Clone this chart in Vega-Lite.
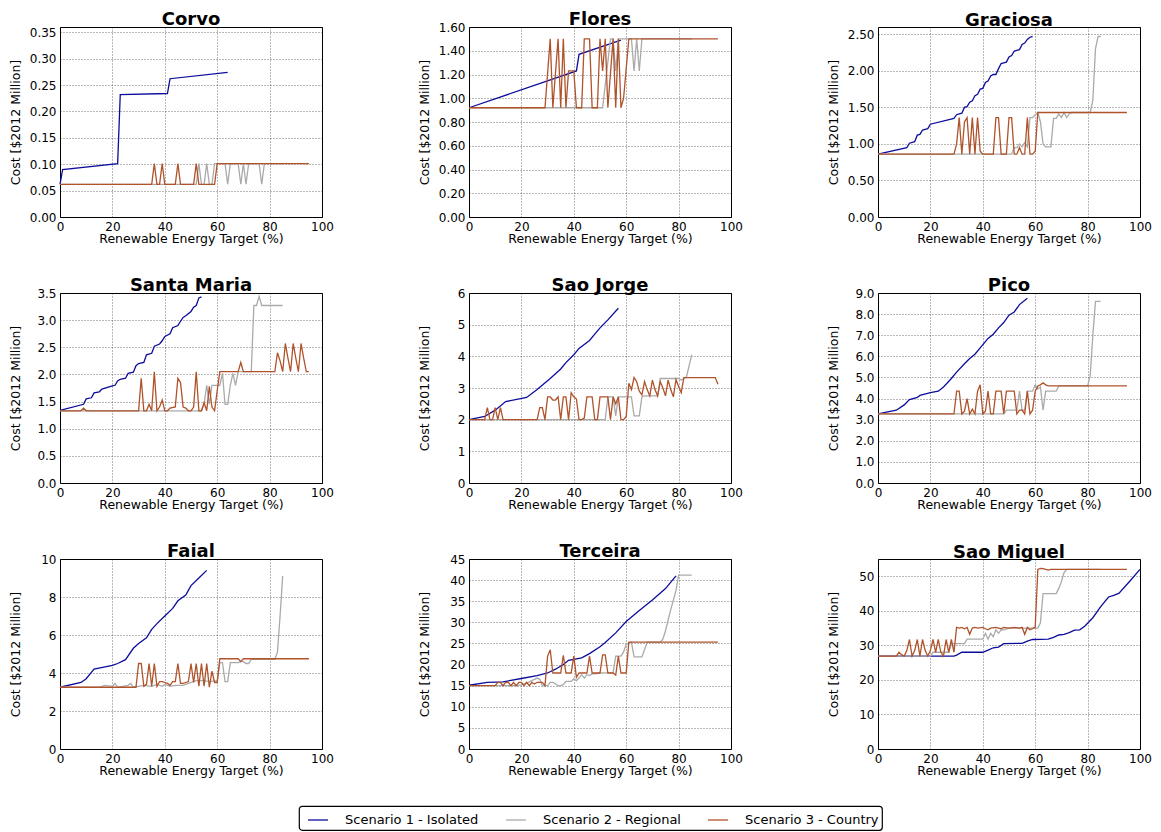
{
  "$schema": "https://vega.github.io/schema/vega-lite/v6.json",
  "background": "white",
  "padding": {"left": 8, "top": 10, "right": 5, "bottom": 0},
  "columns": 3,
  "spacing": {"row": 76, "column": 147},
  "bounds": "flush",
  "config": {
    "font": "DejaVu Sans",
    "view": {"stroke": "black", "strokeWidth": 1},
    "axis": {
      "domain": false, "ticks": false, "grid": true,
      "gridColor": "#000000", "gridDash": [1, 2], "gridOpacity": 0.7, "gridWidth": 0.8,
      "labelFont": "DejaVu Sans", "labelFontSize": 12, "labelColor": "#000000",
      "titleFont": "DejaVu Sans", "titleFontSize": 12.5, "titleFontWeight": "normal", "titleColor": "#000000",
      "labelFlush": false, "labelOverlap": false, "labelPadding": 4
    },
    "axisX": {"titleY": 25, "titleBaseline": "alphabetic"},
    "axisY": {"titleX": -45, "titleY": 95, "titleAngle": 270, "titleAlign": "center", "titleBaseline": "middle"},
    "title": {"fontSize": 18, "fontWeight": "bold", "offset": 3, "baseline": "alphabetic", "frame": "group", "color": "#000000", "anchor": "middle"},
    "legend": {
      "strokeColor": "#000000", "strokeWidth": 1.2, "cornerRadius": 3, "padding": 3, "fillColor": "white",
      "symbolType": "stroke", "symbolStrokeWidth": 2.5, "symbolSize": 400, "symbolOffset": 5,
      "labelFontSize": 13, "labelColor": "#000000", "labelOffset": 16, "columnPadding": 21, "gridAlign": "each"
    },
    "line": {"strokeWidth": 1.3}
  },
  "datasets": {
    "corvo": [
      {"s":1,"x":0,"y":0.062},{"s":1,"x":1,"y":0.09},{"s":1,"x":22,"y":0.101},{"s":1,"x":23,"y":0.232},{"s":1,"x":41,"y":0.234},{"s":1,"x":42,"y":0.262},{"s":1,"x":64,"y":0.274},
      {"s":2,"x":0,"y":0.062},{"s":2,"x":52,"y":0.062},{"s":2,"x":53,"y":0.101},{"s":2,"x":54,"y":0.062},{"s":2,"x":55,"y":0.062},{"s":2,"x":56,"y":0.101},{"s":2,"x":57,"y":0.062},{"s":2,"x":58,"y":0.062},{"s":2,"x":59,"y":0.101},{"s":2,"x":63,"y":0.101},{"s":2,"x":64,"y":0.062},{"s":2,"x":65,"y":0.101},{"s":2,"x":68,"y":0.101},{"s":2,"x":69,"y":0.062},{"s":2,"x":70,"y":0.101},{"s":2,"x":71,"y":0.062},{"s":2,"x":72,"y":0.101},{"s":2,"x":76,"y":0.101},{"s":2,"x":77,"y":0.062},{"s":2,"x":78,"y":0.101},{"s":2,"x":85,"y":0.101},
      {"s":3,"x":0,"y":0.062},{"s":3,"x":35,"y":0.062},{"s":3,"x":36,"y":0.101},{"s":3,"x":37,"y":0.062},{"s":3,"x":38,"y":0.062},{"s":3,"x":39,"y":0.101},{"s":3,"x":40,"y":0.062},{"s":3,"x":44,"y":0.062},{"s":3,"x":45,"y":0.101},{"s":3,"x":46,"y":0.062},{"s":3,"x":51,"y":0.062},{"s":3,"x":52,"y":0.101},{"s":3,"x":53,"y":0.062},{"s":3,"x":59,"y":0.062},{"s":3,"x":60,"y":0.101},{"s":3,"x":95,"y":0.101}
    ],
    "flores": [
      {"s":1,"x":0,"y":0.92},{"s":1,"x":41,"y":1.23},{"s":1,"x":42,"y":1.37},{"s":1,"x":58,"y":1.49},
      {"s":2,"x":0,"y":0.92},{"s":2,"x":51,"y":0.92},{"s":2,"x":54,"y":1.5},{"s":2,"x":55,"y":1.5},{"s":2,"x":56,"y":1.23},{"s":2,"x":57,"y":1.5},{"s":2,"x":62,"y":1.5},{"s":2,"x":63,"y":1.23},{"s":2,"x":64,"y":1.5},{"s":2,"x":65,"y":1.23},{"s":2,"x":66,"y":1.5},{"s":2,"x":85,"y":1.5},
      {"s":3,"x":0,"y":0.92},{"s":3,"x":29,"y":0.92},{"s":3,"x":31,"y":1.5},{"s":3,"x":32,"y":0.92},{"s":3,"x":34,"y":1.5},{"s":3,"x":35,"y":0.92},{"s":3,"x":36,"y":1.5},{"s":3,"x":37,"y":0.92},{"s":3,"x":38,"y":1.23},{"s":3,"x":40,"y":1.23},{"s":3,"x":41,"y":0.92},{"s":3,"x":43,"y":0.92},{"s":3,"x":44,"y":1.5},{"s":3,"x":46,"y":1.5},{"s":3,"x":47,"y":0.92},{"s":3,"x":49,"y":0.92},{"s":3,"x":50,"y":1.5},{"s":3,"x":51,"y":1.23},{"s":3,"x":52,"y":1.5},{"s":3,"x":53,"y":0.92},{"s":3,"x":55,"y":1.5},{"s":3,"x":56,"y":0.92},{"s":3,"x":57,"y":1.5},{"s":3,"x":58,"y":0.92},{"s":3,"x":59,"y":1.0},{"s":3,"x":61,"y":1.5},{"s":3,"x":95,"y":1.5}
    ],
    "graciosa": [
      {"s":1,"x":0,"y":0.86},{"s":1,"x":11,"y":0.95},{"s":1,"x":12,"y":1.01},{"s":1,"x":14,"y":1.03},{"s":1,"x":15,"y":1.12},{"s":1,"x":16,"y":1.13},{"s":1,"x":17,"y":1.19},{"s":1,"x":18,"y":1.2},{"s":1,"x":19,"y":1.21},{"s":1,"x":20,"y":1.27},{"s":1,"x":29,"y":1.35},{"s":1,"x":30,"y":1.4},{"s":1,"x":31,"y":1.41},{"s":1,"x":32,"y":1.42},{"s":1,"x":33,"y":1.5},{"s":1,"x":34,"y":1.51},{"s":1,"x":35,"y":1.57},{"s":1,"x":36,"y":1.59},{"s":1,"x":37,"y":1.66},{"s":1,"x":38,"y":1.68},{"s":1,"x":39,"y":1.75},{"s":1,"x":40,"y":1.76},{"s":1,"x":41,"y":1.84},{"s":1,"x":42,"y":1.86},{"s":1,"x":43,"y":1.93},{"s":1,"x":44,"y":1.95},{"s":1,"x":45,"y":1.95},{"s":1,"x":46,"y":2.03},{"s":1,"x":47,"y":2.1},{"s":1,"x":48,"y":2.11},{"s":1,"x":49,"y":2.12},{"s":1,"x":50,"y":2.19},{"s":1,"x":51,"y":2.21},{"s":1,"x":52,"y":2.27},{"s":1,"x":53,"y":2.28},{"s":1,"x":54,"y":2.29},{"s":1,"x":55,"y":2.36},{"s":1,"x":56,"y":2.38},{"s":1,"x":57,"y":2.43},{"s":1,"x":58,"y":2.46},{"s":1,"x":59,"y":2.47},
      {"s":2,"x":0,"y":0.86},{"s":2,"x":51,"y":0.86},{"s":2,"x":52,"y":0.95},{"s":2,"x":53,"y":0.95},{"s":2,"x":54,"y":1.0},{"s":2,"x":55,"y":0.96},{"s":2,"x":56,"y":1.02},{"s":2,"x":57,"y":0.96},{"s":2,"x":58,"y":1.36},{"s":2,"x":59,"y":1.36},{"s":2,"x":60,"y":1.4},{"s":2,"x":61,"y":1.43},{"s":2,"x":62,"y":1.3},{"s":2,"x":63,"y":1.0},{"s":2,"x":64,"y":0.96},{"s":2,"x":66,"y":0.96},{"s":2,"x":67,"y":1.35},{"s":2,"x":68,"y":1.35},{"s":2,"x":69,"y":1.41},{"s":2,"x":70,"y":1.36},{"s":2,"x":71,"y":1.43},{"s":2,"x":72,"y":1.36},{"s":2,"x":73,"y":1.41},{"s":2,"x":74,"y":1.43},{"s":2,"x":81,"y":1.43},{"s":2,"x":82,"y":1.6},{"s":2,"x":83,"y":2.3},{"s":2,"x":84,"y":2.47},{"s":2,"x":85,"y":2.47},
      {"s":3,"x":0,"y":0.86},{"s":3,"x":29,"y":0.86},{"s":3,"x":30,"y":1.0},{"s":3,"x":31,"y":1.36},{"s":3,"x":32,"y":0.86},{"s":3,"x":33,"y":1.3},{"s":3,"x":34,"y":1.36},{"s":3,"x":35,"y":0.86},{"s":3,"x":36,"y":1.36},{"s":3,"x":37,"y":0.86},{"s":3,"x":38,"y":1.36},{"s":3,"x":39,"y":0.9},{"s":3,"x":40,"y":0.86},{"s":3,"x":44,"y":0.86},{"s":3,"x":45,"y":1.36},{"s":3,"x":46,"y":1.36},{"s":3,"x":47,"y":0.86},{"s":3,"x":49,"y":0.86},{"s":3,"x":50,"y":1.36},{"s":3,"x":51,"y":1.36},{"s":3,"x":52,"y":0.86},{"s":3,"x":53,"y":0.86},{"s":3,"x":54,"y":0.95},{"s":3,"x":55,"y":0.86},{"s":3,"x":56,"y":0.86},{"s":3,"x":57,"y":1.36},{"s":3,"x":58,"y":0.86},{"s":3,"x":59,"y":0.86},{"s":3,"x":60,"y":0.9},{"s":3,"x":61,"y":1.43},{"s":3,"x":95,"y":1.43}
    ],
    "santamaria": [
      {"s":1,"x":0,"y":1.34},{"s":1,"x":9,"y":1.45},{"s":1,"x":10,"y":1.55},{"s":1,"x":12,"y":1.57},{"s":1,"x":13,"y":1.66},{"s":1,"x":15,"y":1.68},{"s":1,"x":16,"y":1.73},{"s":1,"x":20,"y":1.79},{"s":1,"x":21,"y":1.8},{"s":1,"x":22,"y":1.88},{"s":1,"x":23,"y":1.91},{"s":1,"x":25,"y":1.93},{"s":1,"x":26,"y":2.02},{"s":1,"x":28,"y":2.04},{"s":1,"x":29,"y":2.16},{"s":1,"x":30,"y":2.2},{"s":1,"x":32,"y":2.22},{"s":1,"x":33,"y":2.36},{"s":1,"x":35,"y":2.39},{"s":1,"x":36,"y":2.52},{"s":1,"x":38,"y":2.56},{"s":1,"x":39,"y":2.62},{"s":1,"x":40,"y":2.7},{"s":1,"x":42,"y":2.75},{"s":1,"x":43,"y":2.86},{"s":1,"x":45,"y":2.9},{"s":1,"x":46,"y":2.98},{"s":1,"x":47,"y":3.05},{"s":1,"x":48,"y":3.08},{"s":1,"x":50,"y":3.16},{"s":1,"x":51,"y":3.24},{"s":1,"x":52,"y":3.27},{"s":1,"x":53,"y":3.41},{"s":1,"x":54,"y":3.43},
      {"s":2,"x":0,"y":1.33},{"s":2,"x":54,"y":1.33},{"s":2,"x":55,"y":1.45},{"s":2,"x":56,"y":1.8},{"s":2,"x":57,"y":1.45},{"s":2,"x":58,"y":1.8},{"s":2,"x":61,"y":1.8},{"s":2,"x":62,"y":2.02},{"s":2,"x":63,"y":1.45},{"s":2,"x":64,"y":1.45},{"s":2,"x":65,"y":1.8},{"s":2,"x":66,"y":2.02},{"s":2,"x":67,"y":1.8},{"s":2,"x":68,"y":2.05},{"s":2,"x":73,"y":2.05},{"s":2,"x":74,"y":3.27},{"s":2,"x":75,"y":3.27},{"s":2,"x":76,"y":3.44},{"s":2,"x":77,"y":3.27},{"s":2,"x":85,"y":3.27},
      {"s":3,"x":0,"y":1.33},{"s":3,"x":8,"y":1.33},{"s":3,"x":9,"y":1.38},{"s":3,"x":10,"y":1.33},{"s":3,"x":30,"y":1.33},{"s":3,"x":31,"y":1.93},{"s":3,"x":32,"y":1.33},{"s":3,"x":33,"y":1.33},{"s":3,"x":34,"y":1.45},{"s":3,"x":35,"y":1.33},{"s":3,"x":36,"y":2.05},{"s":3,"x":37,"y":1.33},{"s":3,"x":38,"y":1.4},{"s":3,"x":39,"y":1.53},{"s":3,"x":40,"y":1.33},{"s":3,"x":41,"y":1.33},{"s":3,"x":42,"y":1.38},{"s":3,"x":44,"y":1.4},{"s":3,"x":45,"y":1.93},{"s":3,"x":46,"y":1.85},{"s":3,"x":47,"y":1.4},{"s":3,"x":48,"y":1.38},{"s":3,"x":49,"y":1.33},{"s":3,"x":50,"y":1.33},{"s":3,"x":51,"y":1.4},{"s":3,"x":52,"y":2.05},{"s":3,"x":53,"y":1.33},{"s":3,"x":54,"y":1.33},{"s":3,"x":55,"y":1.48},{"s":3,"x":56,"y":1.33},{"s":3,"x":57,"y":1.78},{"s":3,"x":58,"y":1.4},{"s":3,"x":59,"y":1.33},{"s":3,"x":60,"y":1.7},{"s":3,"x":61,"y":2.05},{"s":3,"x":68,"y":2.05},{"s":3,"x":69,"y":2.22},{"s":3,"x":70,"y":2.05},{"s":3,"x":82,"y":2.05},{"s":3,"x":83,"y":2.4},{"s":3,"x":84,"y":2.25},{"s":3,"x":85,"y":2.05},{"s":3,"x":86,"y":2.57},{"s":3,"x":87,"y":2.3},{"s":3,"x":88,"y":2.05},{"s":3,"x":89,"y":2.57},{"s":3,"x":90,"y":2.3},{"s":3,"x":91,"y":2.05},{"s":3,"x":92,"y":2.57},{"s":3,"x":93,"y":2.3},{"s":3,"x":94,"y":2.05},{"s":3,"x":95,"y":2.05}
    ],
    "saojorge": [
      {"s":1,"x":0,"y":2.0},{"s":1,"x":6,"y":2.1},{"s":1,"x":10,"y":2.3},{"s":1,"x":14,"y":2.57},{"s":1,"x":22,"y":2.7},{"s":1,"x":26,"y":2.95},{"s":1,"x":31,"y":3.3},{"s":1,"x":35,"y":3.6},{"s":1,"x":37,"y":3.8},{"s":1,"x":40,"y":4.05},{"s":1,"x":42,"y":4.25},{"s":1,"x":46,"y":4.5},{"s":1,"x":48,"y":4.7},{"s":1,"x":50,"y":4.9},{"s":1,"x":53,"y":5.15},{"s":1,"x":57,"y":5.52},
      {"s":2,"x":0,"y":2.0},{"s":2,"x":52,"y":2.0},{"s":2,"x":53,"y":2.72},{"s":2,"x":55,"y":2.72},{"s":2,"x":56,"y":2.12},{"s":2,"x":57,"y":2.72},{"s":2,"x":62,"y":2.72},{"s":2,"x":63,"y":2.12},{"s":2,"x":65,"y":2.12},{"s":2,"x":66,"y":2.72},{"s":2,"x":67,"y":2.75},{"s":2,"x":72,"y":2.75},{"s":2,"x":73,"y":3.3},{"s":2,"x":80,"y":3.3},{"s":2,"x":81,"y":3.25},{"s":2,"x":83,"y":3.35},{"s":2,"x":84,"y":3.7},{"s":2,"x":85,"y":4.05},
      {"s":3,"x":0,"y":2.0},{"s":3,"x":6,"y":2.0},{"s":3,"x":7,"y":2.38},{"s":3,"x":8,"y":2.0},{"s":3,"x":9,"y":2.0},{"s":3,"x":10,"y":2.38},{"s":3,"x":11,"y":2.0},{"s":3,"x":12,"y":2.38},{"s":3,"x":13,"y":2.0},{"s":3,"x":26,"y":2.0},{"s":3,"x":27,"y":2.38},{"s":3,"x":28,"y":2.38},{"s":3,"x":29,"y":2.0},{"s":3,"x":30,"y":2.72},{"s":3,"x":31,"y":2.72},{"s":3,"x":32,"y":2.62},{"s":3,"x":33,"y":2.62},{"s":3,"x":34,"y":2.72},{"s":3,"x":35,"y":2.0},{"s":3,"x":36,"y":2.72},{"s":3,"x":37,"y":2.72},{"s":3,"x":38,"y":2.0},{"s":3,"x":39,"y":2.85},{"s":3,"x":40,"y":2.72},{"s":3,"x":41,"y":2.65},{"s":3,"x":42,"y":2.0},{"s":3,"x":43,"y":2.0},{"s":3,"x":44,"y":2.05},{"s":3,"x":45,"y":2.72},{"s":3,"x":47,"y":2.72},{"s":3,"x":48,"y":2.0},{"s":3,"x":49,"y":2.0},{"s":3,"x":50,"y":2.72},{"s":3,"x":53,"y":2.72},{"s":3,"x":54,"y":2.0},{"s":3,"x":55,"y":2.72},{"s":3,"x":56,"y":2.5},{"s":3,"x":57,"y":2.72},{"s":3,"x":58,"y":2.0},{"s":3,"x":59,"y":2.0},{"s":3,"x":60,"y":2.1},{"s":3,"x":61,"y":3.15},{"s":3,"x":62,"y":2.95},{"s":3,"x":63,"y":3.33},{"s":3,"x":64,"y":3.2},{"s":3,"x":65,"y":2.9},{"s":3,"x":66,"y":2.78},{"s":3,"x":67,"y":3.2},{"s":3,"x":68,"y":2.95},{"s":3,"x":69,"y":2.75},{"s":3,"x":70,"y":3.25},{"s":3,"x":71,"y":2.95},{"s":3,"x":72,"y":2.75},{"s":3,"x":73,"y":3.2},{"s":3,"x":74,"y":3.0},{"s":3,"x":75,"y":2.75},{"s":3,"x":76,"y":3.25},{"s":3,"x":77,"y":2.95},{"s":3,"x":78,"y":2.72},{"s":3,"x":79,"y":3.27},{"s":3,"x":80,"y":3.05},{"s":3,"x":81,"y":2.85},{"s":3,"x":82,"y":3.33},{"s":3,"x":94,"y":3.33},{"s":3,"x":95,"y":3.12}
    ],
    "pico": [
      {"s":1,"x":0,"y":3.27},{"s":1,"x":7,"y":3.45},{"s":1,"x":10,"y":3.7},{"s":1,"x":12,"y":3.95},{"s":1,"x":15,"y":4.05},{"s":1,"x":16,"y":4.15},{"s":1,"x":20,"y":4.28},{"s":1,"x":23,"y":4.35},{"s":1,"x":25,"y":4.55},{"s":1,"x":28,"y":4.95},{"s":1,"x":30,"y":5.25},{"s":1,"x":33,"y":5.65},{"s":1,"x":35,"y":5.9},{"s":1,"x":37,"y":6.1},{"s":1,"x":39,"y":6.4},{"s":1,"x":42,"y":6.85},{"s":1,"x":44,"y":7.05},{"s":1,"x":46,"y":7.35},{"s":1,"x":48,"y":7.6},{"s":1,"x":50,"y":7.95},{"s":1,"x":52,"y":8.1},{"s":1,"x":54,"y":8.45},{"s":1,"x":57,"y":8.75},
      {"s":2,"x":0,"y":3.27},{"s":2,"x":48,"y":3.27},{"s":2,"x":49,"y":3.45},{"s":2,"x":53,"y":3.45},{"s":2,"x":54,"y":4.35},{"s":2,"x":55,"y":3.45},{"s":2,"x":56,"y":3.45},{"s":2,"x":57,"y":4.35},{"s":2,"x":59,"y":4.35},{"s":2,"x":60,"y":4.65},{"s":2,"x":61,"y":4.45},{"s":2,"x":62,"y":4.55},{"s":2,"x":63,"y":3.45},{"s":2,"x":64,"y":4.35},{"s":2,"x":68,"y":4.35},{"s":2,"x":69,"y":4.6},{"s":2,"x":80,"y":4.6},{"s":2,"x":81,"y":5.1},{"s":2,"x":82,"y":7.0},{"s":2,"x":83,"y":8.6},{"s":2,"x":85,"y":8.6},
      {"s":3,"x":0,"y":3.27},{"s":3,"x":29,"y":3.27},{"s":3,"x":30,"y":4.35},{"s":3,"x":31,"y":4.35},{"s":3,"x":32,"y":3.27},{"s":3,"x":33,"y":3.4},{"s":3,"x":34,"y":4.0},{"s":3,"x":35,"y":3.27},{"s":3,"x":36,"y":3.5},{"s":3,"x":37,"y":3.27},{"s":3,"x":38,"y":4.35},{"s":3,"x":39,"y":4.65},{"s":3,"x":40,"y":3.27},{"s":3,"x":41,"y":3.4},{"s":3,"x":42,"y":4.35},{"s":3,"x":43,"y":3.27},{"s":3,"x":44,"y":3.27},{"s":3,"x":45,"y":4.35},{"s":3,"x":47,"y":4.35},{"s":3,"x":48,"y":3.27},{"s":3,"x":49,"y":4.35},{"s":3,"x":52,"y":4.35},{"s":3,"x":53,"y":3.27},{"s":3,"x":54,"y":3.45},{"s":3,"x":55,"y":3.45},{"s":3,"x":56,"y":3.27},{"s":3,"x":57,"y":4.35},{"s":3,"x":58,"y":3.27},{"s":3,"x":59,"y":3.45},{"s":3,"x":60,"y":4.35},{"s":3,"x":61,"y":4.6},{"s":3,"x":62,"y":4.65},{"s":3,"x":63,"y":4.75},{"s":3,"x":64,"y":4.65},{"s":3,"x":65,"y":4.6},{"s":3,"x":95,"y":4.6}
    ],
    "faial": [
      {"s":1,"x":0,"y":3.25},{"s":1,"x":8,"y":3.5},{"s":1,"x":10,"y":3.7},{"s":1,"x":13,"y":4.2},{"s":1,"x":20,"y":4.4},{"s":1,"x":22,"y":4.5},{"s":1,"x":25,"y":4.7},{"s":1,"x":28,"y":5.3},{"s":1,"x":30,"y":5.55},{"s":1,"x":33,"y":5.85},{"s":1,"x":35,"y":6.3},{"s":1,"x":37,"y":6.6},{"s":1,"x":40,"y":7.0},{"s":1,"x":43,"y":7.4},{"s":1,"x":45,"y":7.8},{"s":1,"x":48,"y":8.1},{"s":1,"x":50,"y":8.6},{"s":1,"x":53,"y":9.0},{"s":1,"x":56,"y":9.4},
      {"s":2,"x":0,"y":3.25},{"s":2,"x":15,"y":3.25},{"s":2,"x":17,"y":3.35},{"s":2,"x":20,"y":3.3},{"s":2,"x":21,"y":3.45},{"s":2,"x":22,"y":3.25},{"s":2,"x":24,"y":3.3},{"s":2,"x":26,"y":3.35},{"s":2,"x":27,"y":3.45},{"s":2,"x":28,"y":3.25},{"s":2,"x":32,"y":3.35},{"s":2,"x":35,"y":3.3},{"s":2,"x":37,"y":3.4},{"s":2,"x":39,"y":3.3},{"s":2,"x":40,"y":3.4},{"s":2,"x":42,"y":3.3},{"s":2,"x":44,"y":3.35},{"s":2,"x":47,"y":3.35},{"s":2,"x":49,"y":3.45},{"s":2,"x":52,"y":3.6},{"s":2,"x":55,"y":3.6},{"s":2,"x":57,"y":3.55},{"s":2,"x":60,"y":3.6},{"s":2,"x":61,"y":4.55},{"s":2,"x":62,"y":4.55},{"s":2,"x":63,"y":3.55},{"s":2,"x":64,"y":3.55},{"s":2,"x":65,"y":4.55},{"s":2,"x":68,"y":4.55},{"s":2,"x":69,"y":4.6},{"s":2,"x":70,"y":4.6},{"s":2,"x":71,"y":4.5},{"s":2,"x":72,"y":4.5},{"s":2,"x":73,"y":4.72},{"s":2,"x":82,"y":4.72},{"s":2,"x":83,"y":5.1},{"s":2,"x":84,"y":7.0},{"s":2,"x":85,"y":9.1},
      {"s":3,"x":0,"y":3.25},{"s":3,"x":29,"y":3.25},{"s":3,"x":30,"y":4.5},{"s":3,"x":31,"y":4.5},{"s":3,"x":32,"y":3.3},{"s":3,"x":33,"y":3.4},{"s":3,"x":34,"y":4.5},{"s":3,"x":35,"y":3.3},{"s":3,"x":36,"y":4.5},{"s":3,"x":37,"y":3.3},{"s":3,"x":38,"y":3.55},{"s":3,"x":39,"y":3.55},{"s":3,"x":40,"y":3.5},{"s":3,"x":41,"y":3.45},{"s":3,"x":42,"y":3.35},{"s":3,"x":43,"y":3.55},{"s":3,"x":44,"y":3.55},{"s":3,"x":45,"y":4.5},{"s":3,"x":46,"y":3.45},{"s":3,"x":47,"y":3.45},{"s":3,"x":48,"y":3.5},{"s":3,"x":49,"y":3.55},{"s":3,"x":50,"y":4.5},{"s":3,"x":51,"y":3.5},{"s":3,"x":52,"y":4.5},{"s":3,"x":53,"y":3.3},{"s":3,"x":54,"y":4.5},{"s":3,"x":55,"y":3.3},{"s":3,"x":56,"y":4.5},{"s":3,"x":57,"y":3.25},{"s":3,"x":58,"y":4.1},{"s":3,"x":59,"y":3.5},{"s":3,"x":60,"y":3.5},{"s":3,"x":61,"y":4.75},{"s":3,"x":68,"y":4.75},{"s":3,"x":69,"y":4.6},{"s":3,"x":70,"y":4.75},{"s":3,"x":95,"y":4.75}
    ],
    "terceira": [
      {"s":1,"x":0,"y":15.1},{"s":1,"x":7,"y":15.8},{"s":1,"x":13,"y":15.9},{"s":1,"x":20,"y":16.7},{"s":1,"x":26,"y":17.4},{"s":1,"x":30,"y":18.0},{"s":1,"x":33,"y":18.9},{"s":1,"x":36,"y":20.0},{"s":1,"x":38,"y":21.0},{"s":1,"x":43,"y":21.6},{"s":1,"x":46,"y":22.6},{"s":1,"x":50,"y":24.2},{"s":1,"x":52,"y":25.2},{"s":1,"x":56,"y":27.5},{"s":1,"x":60,"y":30.2},{"s":1,"x":65,"y":32.8},{"s":1,"x":70,"y":35.3},{"s":1,"x":75,"y":38.0},{"s":1,"x":79,"y":41.0},
      {"s":2,"x":0,"y":15.0},{"s":2,"x":18,"y":15.0},{"s":2,"x":20,"y":15.2},{"s":2,"x":22,"y":15.6},{"s":2,"x":24,"y":16.2},{"s":2,"x":26,"y":16.8},{"s":2,"x":27,"y":16.5},{"s":2,"x":28,"y":15.0},{"s":2,"x":30,"y":15.0},{"s":2,"x":31,"y":15.8},{"s":2,"x":32,"y":15.8},{"s":2,"x":34,"y":15.0},{"s":2,"x":35,"y":15.0},{"s":2,"x":36,"y":15.3},{"s":2,"x":37,"y":16.0},{"s":2,"x":39,"y":16.0},{"s":2,"x":40,"y":16.6},{"s":2,"x":41,"y":16.2},{"s":2,"x":42,"y":16.8},{"s":2,"x":43,"y":17.6},{"s":2,"x":44,"y":16.8},{"s":2,"x":45,"y":17.6},{"s":2,"x":46,"y":17.4},{"s":2,"x":47,"y":17.8},{"s":2,"x":48,"y":17.8},{"s":2,"x":50,"y":18.0},{"s":2,"x":55,"y":18.1},{"s":2,"x":56,"y":22.0},{"s":2,"x":58,"y":22.0},{"s":2,"x":59,"y":23.0},{"s":2,"x":60,"y":24.8},{"s":2,"x":62,"y":25.3},{"s":2,"x":63,"y":21.8},{"s":2,"x":66,"y":21.8},{"s":2,"x":68,"y":25.3},{"s":2,"x":73,"y":25.3},{"s":2,"x":74,"y":26.0},{"s":2,"x":75,"y":28.0},{"s":2,"x":77,"y":33.0},{"s":2,"x":79,"y":37.5},{"s":2,"x":80,"y":41.2},{"s":2,"x":85,"y":41.2},
      {"s":3,"x":0,"y":15.0},{"s":3,"x":10,"y":15.0},{"s":3,"x":11,"y":15.8},{"s":3,"x":12,"y":15.8},{"s":3,"x":13,"y":15.0},{"s":3,"x":14,"y":15.8},{"s":3,"x":15,"y":15.8},{"s":3,"x":16,"y":15.0},{"s":3,"x":17,"y":15.8},{"s":3,"x":18,"y":15.0},{"s":3,"x":19,"y":15.8},{"s":3,"x":20,"y":15.8},{"s":3,"x":21,"y":15.0},{"s":3,"x":22,"y":15.8},{"s":3,"x":23,"y":15.0},{"s":3,"x":24,"y":15.8},{"s":3,"x":25,"y":15.4},{"s":3,"x":26,"y":15.8},{"s":3,"x":28,"y":15.8},{"s":3,"x":29,"y":15.0},{"s":3,"x":30,"y":22.0},{"s":3,"x":31,"y":23.5},{"s":3,"x":32,"y":18.0},{"s":3,"x":35,"y":18.0},{"s":3,"x":36,"y":22.2},{"s":3,"x":37,"y":18.0},{"s":3,"x":39,"y":18.0},{"s":3,"x":40,"y":22.0},{"s":3,"x":41,"y":17.0},{"s":3,"x":42,"y":18.0},{"s":3,"x":45,"y":18.0},{"s":3,"x":46,"y":22.0},{"s":3,"x":47,"y":18.0},{"s":3,"x":50,"y":18.0},{"s":3,"x":51,"y":22.3},{"s":3,"x":52,"y":22.3},{"s":3,"x":53,"y":18.0},{"s":3,"x":55,"y":18.0},{"s":3,"x":56,"y":17.5},{"s":3,"x":57,"y":22.0},{"s":3,"x":58,"y":18.0},{"s":3,"x":60,"y":18.0},{"s":3,"x":61,"y":25.3},{"s":3,"x":95,"y":25.3}
    ],
    "saomiguel": [
      {"s":1,"x":0,"y":26.9},{"s":1,"x":29,"y":26.9},{"s":1,"x":30,"y":27.2},{"s":1,"x":32,"y":28.0},{"s":1,"x":40,"y":28.0},{"s":1,"x":42,"y":28.6},{"s":1,"x":44,"y":29.3},{"s":1,"x":46,"y":29.5},{"s":1,"x":48,"y":30.5},{"s":1,"x":55,"y":30.6},{"s":1,"x":57,"y":31.2},{"s":1,"x":59,"y":31.7},{"s":1,"x":65,"y":31.8},{"s":1,"x":67,"y":32.3},{"s":1,"x":69,"y":33.0},{"s":1,"x":71,"y":33.2},{"s":1,"x":73,"y":33.7},{"s":1,"x":75,"y":34.4},{"s":1,"x":77,"y":34.5},{"s":1,"x":79,"y":35.6},{"s":1,"x":82,"y":38.0},{"s":1,"x":85,"y":41.2},{"s":1,"x":88,"y":44.0},{"s":1,"x":90,"y":44.5},{"s":1,"x":92,"y":45.1},{"s":1,"x":96,"y":48.5},{"s":1,"x":100,"y":52.0},
      {"s":2,"x":0,"y":26.9},{"s":2,"x":20,"y":26.9},{"s":2,"x":21,"y":28.0},{"s":2,"x":27,"y":28.0},{"s":2,"x":28,"y":30.5},{"s":2,"x":33,"y":30.5},{"s":2,"x":34,"y":31.8},{"s":2,"x":40,"y":31.8},{"s":2,"x":41,"y":33.5},{"s":2,"x":42,"y":31.8},{"s":2,"x":43,"y":33.5},{"s":2,"x":44,"y":32.5},{"s":2,"x":45,"y":34.5},{"s":2,"x":46,"y":33.5},{"s":2,"x":47,"y":34.5},{"s":2,"x":48,"y":34.5},{"s":2,"x":50,"y":35.0},{"s":2,"x":61,"y":35.0},{"s":2,"x":62,"y":36.5},{"s":2,"x":63,"y":45.0},{"s":2,"x":68,"y":45.0},{"s":2,"x":69,"y":46.5},{"s":2,"x":70,"y":48.5},{"s":2,"x":71,"y":51.0},{"s":2,"x":72,"y":52.0},{"s":2,"x":85,"y":52.0},
      {"s":3,"x":0,"y":26.9},{"s":3,"x":7,"y":26.9},{"s":3,"x":8,"y":28.0},{"s":3,"x":9,"y":27.3},{"s":3,"x":10,"y":26.9},{"s":3,"x":11,"y":28.5},{"s":3,"x":12,"y":31.7},{"s":3,"x":13,"y":26.9},{"s":3,"x":14,"y":28.5},{"s":3,"x":15,"y":31.7},{"s":3,"x":16,"y":26.9},{"s":3,"x":17,"y":31.7},{"s":3,"x":18,"y":28.5},{"s":3,"x":19,"y":26.9},{"s":3,"x":20,"y":28.5},{"s":3,"x":21,"y":31.7},{"s":3,"x":22,"y":28.0},{"s":3,"x":23,"y":31.7},{"s":3,"x":24,"y":28.0},{"s":3,"x":25,"y":26.9},{"s":3,"x":26,"y":31.7},{"s":3,"x":27,"y":28.0},{"s":3,"x":28,"y":31.7},{"s":3,"x":29,"y":28.0},{"s":3,"x":30,"y":35.2},{"s":3,"x":31,"y":35.0},{"s":3,"x":32,"y":35.2},{"s":3,"x":33,"y":34.8},{"s":3,"x":34,"y":35.2},{"s":3,"x":35,"y":33.2},{"s":3,"x":36,"y":35.0},{"s":3,"x":37,"y":35.2},{"s":3,"x":38,"y":35.0},{"s":3,"x":40,"y":35.2},{"s":3,"x":41,"y":34.8},{"s":3,"x":42,"y":34.5},{"s":3,"x":43,"y":35.0},{"s":3,"x":45,"y":35.2},{"s":3,"x":46,"y":35.0},{"s":3,"x":47,"y":34.8},{"s":3,"x":48,"y":35.2},{"s":3,"x":50,"y":35.0},{"s":3,"x":52,"y":35.2},{"s":3,"x":54,"y":35.0},{"s":3,"x":55,"y":35.2},{"s":3,"x":56,"y":33.2},{"s":3,"x":57,"y":35.2},{"s":3,"x":58,"y":34.5},{"s":3,"x":60,"y":35.2},{"s":3,"x":61,"y":52.0},{"s":3,"x":62,"y":52.3},{"s":3,"x":63,"y":52.2},{"s":3,"x":65,"y":51.8},{"s":3,"x":66,"y":52.0},{"s":3,"x":95,"y":52.0}
    ]
  },
  "concat": [
    {
      "title": {"text": "Corvo", "dy": 6}, "width": 262, "height": 190, "data": {"name": "corvo"}, "mark": "line",
      "encoding": {
        "x": {"field": "x", "type": "quantitative", "scale": {"domain": [0, 100], "nice": false}, "axis": {"values": [0, 20, 40, 60, 80, 100], "title": "Renewable Energy Target (%)"}},
        "y": {"field": "y", "type": "quantitative", "scale": {"domain": [0, 0.36], "nice": false}, "axis": {"values": [0, 0.05, 0.1, 0.15, 0.2, 0.25, 0.3, 0.35], "format": ".2f", "title": "Cost [$2012 Million]"}},
        "color": {"field": "s", "type": "nominal", "scale": {"domain": [1, 2, 3], "range": ["#0c0c9c", "#aaaaaa", "#b0532b"]}, "legend": {"title": null, "orient": "none", "direction": "horizontal", "legendX": 239, "legendY": 779, "labelExpr": "['', 'Scenario 1 - Isolated', 'Scenario 2 - Regional', 'Scenario 3 - Country'][datum.value]"}}
      }
    },
    {
      "title": {"text": "Flores", "dy": 11}, "width": 262, "height": 190, "data": {"name": "flores"}, "mark": "line",
      "encoding": {
        "x": {"field": "x", "type": "quantitative", "scale": {"domain": [0, 100], "nice": false}, "axis": {"values": [0, 20, 40, 60, 80, 100], "title": "Renewable Energy Target (%)"}},
        "y": {"field": "y", "type": "quantitative", "scale": {"domain": [0, 1.6], "nice": false}, "axis": {"values": [0, 0.2, 0.4, 0.6, 0.8, 1.0, 1.2, 1.4, 1.6], "format": ".2f", "title": "Cost [$2012 Million]"}},
        "color": {"field": "s", "type": "nominal", "scale": {"domain": [1, 2, 3], "range": ["#0c0c9c", "#aaaaaa", "#b0532b"]}, "legend": {"title": null, "orient": "none", "direction": "horizontal", "legendX": 239, "legendY": 779, "labelExpr": "['', 'Scenario 1 - Isolated', 'Scenario 2 - Regional', 'Scenario 3 - Country'][datum.value]"}}
      }
    },
    {
      "title": {"text": "Graciosa", "dy": 6}, "width": 262, "height": 190, "data": {"name": "graciosa"}, "mark": "line",
      "encoding": {
        "x": {"field": "x", "type": "quantitative", "scale": {"domain": [0, 100], "nice": false}, "axis": {"values": [0, 20, 40, 60, 80, 100], "title": "Renewable Energy Target (%)"}},
        "y": {"field": "y", "type": "quantitative", "scale": {"domain": [0, 2.6], "nice": false}, "axis": {"values": [0, 0.5, 1.0, 1.5, 2.0, 2.5], "format": ".2f", "title": "Cost [$2012 Million]"}},
        "color": {"field": "s", "type": "nominal", "scale": {"domain": [1, 2, 3], "range": ["#0c0c9c", "#aaaaaa", "#b0532b"]}, "legend": {"title": null, "orient": "none", "direction": "horizontal", "legendX": 239, "legendY": 779, "labelExpr": "['', 'Scenario 1 - Isolated', 'Scenario 2 - Regional', 'Scenario 3 - Country'][datum.value]"}}
      }
    },
    {
      "title": {"text": "Santa Maria", "dy": 11}, "width": 262, "height": 190, "data": {"name": "santamaria"}, "mark": "line",
      "encoding": {
        "x": {"field": "x", "type": "quantitative", "scale": {"domain": [0, 100], "nice": false}, "axis": {"values": [0, 20, 40, 60, 80, 100], "title": "Renewable Energy Target (%)"}},
        "y": {"field": "y", "type": "quantitative", "scale": {"domain": [0, 3.5], "nice": false}, "axis": {"values": [0, 0.5, 1.0, 1.5, 2.0, 2.5, 3.0, 3.5], "format": ".1f", "title": "Cost [$2012 Million]"}},
        "color": {"field": "s", "type": "nominal", "scale": {"domain": [1, 2, 3], "range": ["#0c0c9c", "#aaaaaa", "#b0532b"]}, "legend": {"title": null, "orient": "none", "direction": "horizontal", "legendX": 239, "legendY": 779, "labelExpr": "['', 'Scenario 1 - Isolated', 'Scenario 2 - Regional', 'Scenario 3 - Country'][datum.value]"}}
      }
    },
    {
      "title": {"text": "Sao Jorge", "dy": 11}, "width": 262, "height": 190, "data": {"name": "saojorge"}, "mark": "line",
      "encoding": {
        "x": {"field": "x", "type": "quantitative", "scale": {"domain": [0, 100], "nice": false}, "axis": {"values": [0, 20, 40, 60, 80, 100], "title": "Renewable Energy Target (%)"}},
        "y": {"field": "y", "type": "quantitative", "scale": {"domain": [0, 6], "nice": false}, "axis": {"values": [0, 1, 2, 3, 4, 5, 6], "format": "d", "title": "Cost [$2012 Million]"}},
        "color": {"field": "s", "type": "nominal", "scale": {"domain": [1, 2, 3], "range": ["#0c0c9c", "#aaaaaa", "#b0532b"]}, "legend": {"title": null, "orient": "none", "direction": "horizontal", "legendX": 239, "legendY": 779, "labelExpr": "['', 'Scenario 1 - Isolated', 'Scenario 2 - Regional', 'Scenario 3 - Country'][datum.value]"}}
      }
    },
    {
      "title": {"text": "Pico", "dy": 11}, "width": 262, "height": 190, "data": {"name": "pico"}, "mark": "line",
      "encoding": {
        "x": {"field": "x", "type": "quantitative", "scale": {"domain": [0, 100], "nice": false}, "axis": {"values": [0, 20, 40, 60, 80, 100], "title": "Renewable Energy Target (%)"}},
        "y": {"field": "y", "type": "quantitative", "scale": {"domain": [0, 9], "nice": false}, "axis": {"values": [0, 1, 2, 3, 4, 5, 6, 7, 8, 9], "format": ".1f", "title": "Cost [$2012 Million]"}},
        "color": {"field": "s", "type": "nominal", "scale": {"domain": [1, 2, 3], "range": ["#0c0c9c", "#aaaaaa", "#b0532b"]}, "legend": {"title": null, "orient": "none", "direction": "horizontal", "legendX": 239, "legendY": 779, "labelExpr": "['', 'Scenario 1 - Isolated', 'Scenario 2 - Regional', 'Scenario 3 - Country'][datum.value]"}}
      }
    },
    {
      "title": {"text": "Faial", "dy": 11}, "width": 262, "height": 190, "data": {"name": "faial"}, "mark": "line",
      "encoding": {
        "x": {"field": "x", "type": "quantitative", "scale": {"domain": [0, 100], "nice": false}, "axis": {"values": [0, 20, 40, 60, 80, 100], "title": "Renewable Energy Target (%)"}},
        "y": {"field": "y", "type": "quantitative", "scale": {"domain": [0, 10], "nice": false}, "axis": {"values": [0, 2, 4, 6, 8, 10], "format": "d", "title": "Cost [$2012 Million]"}},
        "color": {"field": "s", "type": "nominal", "scale": {"domain": [1, 2, 3], "range": ["#0c0c9c", "#aaaaaa", "#b0532b"]}, "legend": {"title": null, "orient": "none", "direction": "horizontal", "legendX": 239, "legendY": 779, "labelExpr": "['', 'Scenario 1 - Isolated', 'Scenario 2 - Regional', 'Scenario 3 - Country'][datum.value]"}}
      }
    },
    {
      "title": {"text": "Terceira", "dy": 11}, "width": 262, "height": 190, "data": {"name": "terceira"}, "mark": "line",
      "encoding": {
        "x": {"field": "x", "type": "quantitative", "scale": {"domain": [0, 100], "nice": false}, "axis": {"values": [0, 20, 40, 60, 80, 100], "title": "Renewable Energy Target (%)"}},
        "y": {"field": "y", "type": "quantitative", "scale": {"domain": [0, 45], "nice": false}, "axis": {"values": [0, 5, 10, 15, 20, 25, 30, 35, 40, 45], "format": "d", "title": "Cost [$2012 Million]"}},
        "color": {"field": "s", "type": "nominal", "scale": {"domain": [1, 2, 3], "range": ["#0c0c9c", "#aaaaaa", "#b0532b"]}, "legend": {"title": null, "orient": "none", "direction": "horizontal", "legendX": 239, "legendY": 779, "labelExpr": "['', 'Scenario 1 - Isolated', 'Scenario 2 - Regional', 'Scenario 3 - Country'][datum.value]"}}
      }
    },
    {
      "title": {"text": "Sao Miguel", "dy": 6}, "width": 262, "height": 190, "data": {"name": "saomiguel"}, "mark": "line",
      "encoding": {
        "x": {"field": "x", "type": "quantitative", "scale": {"domain": [0, 100], "nice": false}, "axis": {"values": [0, 20, 40, 60, 80, 100], "title": "Renewable Energy Target (%)"}},
        "y": {"field": "y", "type": "quantitative", "scale": {"domain": [0, 55], "nice": false}, "axis": {"values": [0, 10, 20, 30, 40, 50], "format": "d", "title": "Cost [$2012 Million]"}},
        "color": {"field": "s", "type": "nominal", "scale": {"domain": [1, 2, 3], "range": ["#0c0c9c", "#aaaaaa", "#b0532b"]}, "legend": {"title": null, "orient": "none", "direction": "horizontal", "legendX": 239, "legendY": 779, "labelExpr": "['', 'Scenario 1 - Isolated', 'Scenario 2 - Regional', 'Scenario 3 - Country'][datum.value]"}}
      }
    }
  ]
}
